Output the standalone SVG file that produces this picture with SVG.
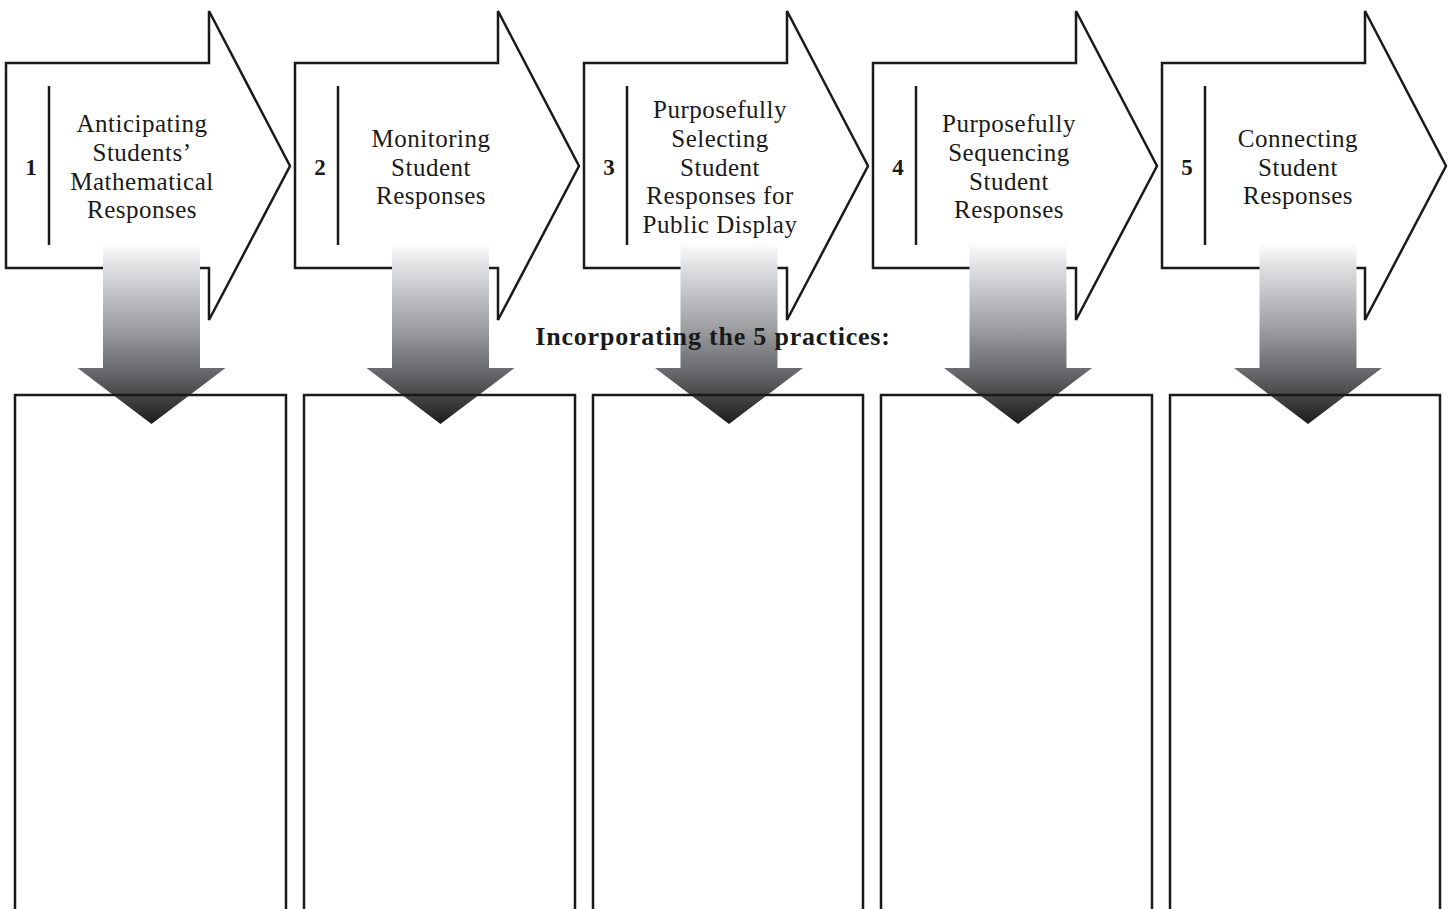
<svg xmlns="http://www.w3.org/2000/svg" width="1448" height="909" viewBox="0 0 1448 909">
<defs>
<linearGradient id="g" x1="0" y1="0" x2="0" y2="1">
<stop offset="0" stop-color="#ffffff"/>
<stop offset="0.12" stop-color="#e2e3e5"/>
<stop offset="0.45" stop-color="#a2a3a6"/>
<stop offset="0.72" stop-color="#66676a"/>
<stop offset="1" stop-color="#1c1c1c"/>
</linearGradient>
<path id="bigArrow" d="M6,63 H209 V11 L290,166 L209,320 V268 H6 Z"/>
<path id="downArrow" d="M-48.5,242 H48.5 V368 H74 L0,424 L-74,368 H-48.5 Z"/>
</defs>
<style>
.big{fill:#fff;stroke:#1a1a1a;stroke-width:2.5;stroke-linejoin:miter}
.div{stroke:#1a1a1a;stroke-width:2.5}
.num{font-family:"Liberation Serif",serif;font-weight:bold;font-size:23px;fill:#1a1a1a;text-anchor:middle}
.lbl{font-family:"Liberation Serif",serif;font-size:25px;letter-spacing:0.5px;fill:#1a1a1a;text-anchor:middle}
.box{fill:none;stroke:#1a1a1a;stroke-width:2.5}
.dn{fill:url(#g)}
.title{font-family:"Liberation Serif",serif;font-weight:bold;font-size:26px;letter-spacing:0.8px;fill:#1a1a1a;text-anchor:middle}
</style>
<g id="step1">
<use href="#bigArrow" class="big"/>
<line class="div" x1="49" y1="86" x2="49" y2="245"/>
<text class="num" x="31" y="175">1</text>
<text class="lbl" x="142" y="132">Anticipating</text>
<text class="lbl" x="142" y="161">Students’</text>
<text class="lbl" x="142" y="189.5">Mathematical</text>
<text class="lbl" x="142" y="218">Responses</text>
</g>
<g id="step2" transform="translate(289,0)">
<use href="#bigArrow" class="big"/>
<line class="div" x1="49" y1="86" x2="49" y2="245"/>
<text class="num" x="31" y="175">2</text>
<text class="lbl" x="142" y="147">Monitoring</text>
<text class="lbl" x="142" y="175.5">Student</text>
<text class="lbl" x="142" y="204">Responses</text>
</g>
<g id="step3" transform="translate(578,0)">
<use href="#bigArrow" class="big"/>
<line class="div" x1="49" y1="86" x2="49" y2="245"/>
<text class="num" x="31" y="175">3</text>
<text class="lbl" x="142" y="118">Purposefully</text>
<text class="lbl" x="142" y="147">Selecting</text>
<text class="lbl" x="142" y="175.5">Student</text>
<text class="lbl" x="142" y="204">Responses for</text>
<text class="lbl" x="142" y="232.5">Public Display</text>
</g>
<g id="step4" transform="translate(867,0)">
<use href="#bigArrow" class="big"/>
<line class="div" x1="49" y1="86" x2="49" y2="245"/>
<text class="num" x="31" y="175">4</text>
<text class="lbl" x="142" y="132">Purposefully</text>
<text class="lbl" x="142" y="161">Sequencing</text>
<text class="lbl" x="142" y="189.5">Student</text>
<text class="lbl" x="142" y="218">Responses</text>
</g>
<g id="step5" transform="translate(1156,0)">
<use href="#bigArrow" class="big"/>
<line class="div" x1="49" y1="86" x2="49" y2="245"/>
<text class="num" x="31" y="175">5</text>
<text class="lbl" x="142" y="147">Connecting</text>
<text class="lbl" x="142" y="175.5">Student</text>
<text class="lbl" x="142" y="204">Responses</text>
</g>
<g id="connectors">
<use href="#downArrow" class="dn" transform="translate(151.5,0)"/>
<use href="#downArrow" class="dn" transform="translate(440.5,0)"/>
<use href="#downArrow" class="dn" transform="translate(729,0)"/>
<use href="#downArrow" class="dn" transform="translate(1018,0)"/>
<use href="#downArrow" class="dn" transform="translate(1308,0)"/>
</g>
<g id="box1"><path class="box" d="M15,912 V395 H286 V912"/></g>
<g id="box2"><path class="box" d="M304,912 V395 H575 V912"/></g>
<g id="box3"><path class="box" d="M593,912 V395 H863 V912"/></g>
<g id="box4"><path class="box" d="M881,912 V395 H1152 V912"/></g>
<g id="box5"><path class="box" d="M1170,912 V395 H1440 V912"/></g>
<g id="title"><text class="title" x="713" y="345">Incorporating the 5 practices:</text></g>
</svg>
